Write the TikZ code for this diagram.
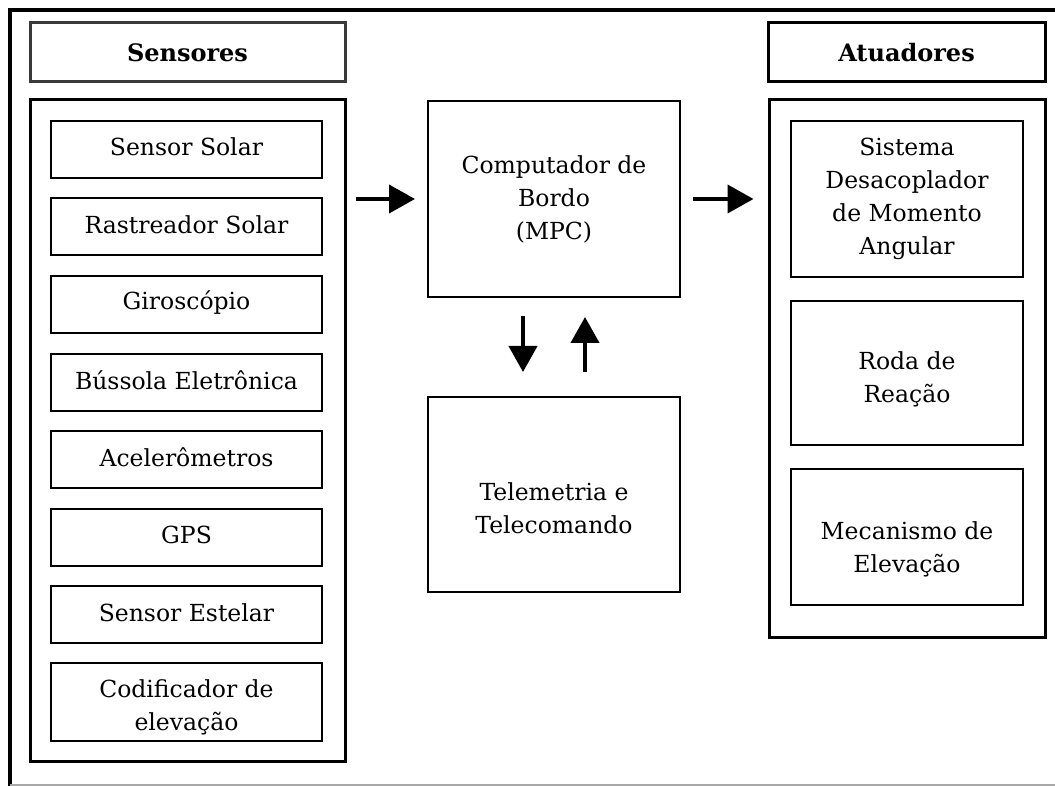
\documentclass[tikz,border=0pt]{standalone}
\usepackage{fontspec}
\setmainfont{DejaVu Serif}
\usetikzlibrary{arrows.meta}
\definecolor{hdrgray}{HTML}{3A3A3A}
\definecolor{framegray}{HTML}{A8A8A8}
% style, name, x1, y1, x2, y2, text offset, text
\newcommand\placebox[8]{%
  \node[#1, minimum width={#5-#3}, minimum height={#6-#4}] (#2) at ({(#3+#5)/2},{(#4+#6)/2}) {};
  \node[txt, #1, draw=none] (#2-t) at ([yshift=-#7pt]#2.center) {#8};}
\begin{document}
\begin{tikzpicture}[x=1pt,y=-1pt,
  every node/.style={font=\fontsize{23.5}{33}\selectfont, align=center, inner sep=0pt},
  txt/.style={},
  container/.style={draw=black, line width=3pt},
  header/.style={draw=black, line width=3pt, font=\fontsize{24}{33}\selectfont\bfseries},
  item/.style={draw=black, line width=2pt},
  arr/.style={line width=4pt, -{Triangle[width=28pt,length=26pt]}}]
\useasboundingbox (0,0) rectangle (1055,786);
\fill[white] (0,0) rectangle (1055,786);
% outer frame
\draw[line width=3.5pt] (10,786) -- (10,10) -- (1055,10);
\draw[framegray, line width=1.5pt] (10,785) -- (1055,785);
% headers
\placebox{header, draw=hdrgray}{hsens}{30}{23}{345}{82}{0}{Sensores}
\placebox{header}{hact}{768}{23}{1045}{82}{0}{Atuadores}
% containers
\placebox{container}{senc}{30}{100}{345}{761}{0}{}
\placebox{container}{actc}{769}{100}{1045}{637}{0}{}
% sensor items
\placebox{item}{s1}{51}{121}{322}{178}{-3}{Sensor Solar}
\placebox{item}{s2}{51}{198.5}{322}{255.5}{-2}{Rastreador Solar}
\placebox{item}{s3}{51}{276}{322}{333}{-2}{Giroscópio}
\placebox{item}{s4}{51}{353.5}{322}{410.5}{-2}{Bússola Eletrônica}
\placebox{item}{s5}{51}{431}{322}{488}{-2}{Acelerômetros}
\placebox{item}{s6}{51}{508.5}{322}{565.5}{-2}{GPS}
\placebox{item}{s7}{51}{586}{322}{643}{-2}{Sensor Estelar}
\placebox{item}{s8}{51}{663}{322}{741}{5}{Codificador de\\elevação}
% actuator items
\placebox{item}{a1}{791}{121}{1023}{277}{0}{Sistema\\Desacoplador\\de Momento\\Angular}
\placebox{item}{a2}{791}{301}{1023}{445}{6}{Roda de\\Reação}
\placebox{item}{a3}{791}{469}{1023}{605}{12}{Mecanismo de\\Elevação}
% center
\placebox{item}{comp}{428}{101}{680}{297}{0}{Computador de\\Bordo\\(MPC)}
\placebox{item}{tele}{428}{397}{680}{592}{14}{Telemetria e\\Telecomando}
% arrows
\draw[arr, shorten <=9pt, shorten >=12pt] (senc.east |- comp.west) -- (comp.west);
\draw[arr, shorten <=12pt, shorten >=14pt] (comp.east) -- (actc.west |- comp.east);
\draw[arr, shorten <=18pt, shorten >=24pt] ([xshift=-31pt]comp.south) -- ([xshift=-31pt]tele.north);
\draw[arr, shorten <=24pt, shorten >=19pt] ([xshift=31pt]tele.north) -- ([xshift=31pt]comp.south);
\end{tikzpicture}
\end{document}
